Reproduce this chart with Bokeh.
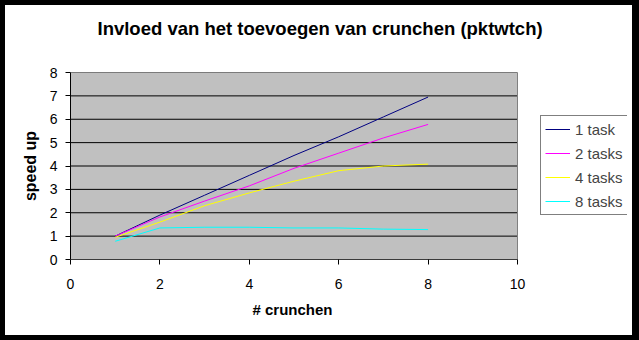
from bokeh.plotting import figure
from bokeh.models import Legend, LegendItem, FixedTicker, Range1d, Title
from bokeh.embed import file_html
from bokeh.resources import INLINE

crunchen = [1, 2, 3, 4, 5, 6, 7, 8]
task1 = [1.0, 1.9, 2.75, 3.6, 4.45, 5.25, 6.1, 6.95]
task2 = [1.0, 1.82, 2.5, 3.15, 3.9, 4.55, 5.2, 5.78]
task4 = [0.95, 1.6, 2.3, 2.85, 3.35, 3.8, 4.0, 4.08]
task8 = [0.78, 1.35, 1.38, 1.38, 1.35, 1.35, 1.30, 1.28]
series_names = ["1 task", "2 tasks", "4 tasks", "8 tasks"]
series_vals = [task1, task2, task4, task8]
colors = ["#000080", "#FF00FF", "#FFFF00", "#00FFFF"]
x_ticks = [0, 2, 4, 6, 8, 10]
y_ticks = [0, 1, 2, 3, 4, 5, 6, 7, 8]
title_text = "Invloed van het toevoegen van crunchen (pktwtch)"
x_label = "# crunchen"
y_label = "speed up"

FONT = "Liberation Sans"

# layout (pixels)
W, H = 639, 340
PLOT_PX = 447          # width of the grey plot area (0..10)
FRAME_PX = 557         # frame extends to the right to hold the legend
x_min, x_max = x_ticks[0], x_ticks[-1]
y_min, y_max = y_ticks[0], y_ticks[-1]
x_end = x_min + (x_max - x_min) * FRAME_PX / PLOT_PX

p = figure(width=W, height=H, output_backend="svg", toolbar_location=None,
           x_range=Range1d(x_min, x_end), y_range=Range1d(y_min, y_max),
           min_border_left=65, min_border_right=17, min_border_top=67, min_border_bottom=86,
           title=None)
p.styles = {"border-left": "5px solid black", "border-top": "5px solid black",
            "border-right": "7px solid black", "border-bottom": "5px solid black"}

# spacer nearest the frame, then the real title further out
spacer_top = Title(text=".", text_font_size="2px", text_color="white", standoff=19)
p.add_layout(spacer_top, "above")
main_title = Title(text=title_text, align="left", offset=27, vertical_align="top",
                   text_font=FONT, text_font_size="18.5px", text_font_style="bold",
                   text_color="black", standoff=20)
p.add_layout(main_title, "above")

p.background_fill_color = "white"
p.border_fill_color = "white"
p.outline_line_color = None

# grey plot area, gridlines and its top/right border
p.quad(left=x_min, right=x_max, bottom=y_min, top=y_max,
       fill_color="#C0C0C0", line_color=None)
p.segment(x0=[x_min] * len(y_ticks), x1=[x_max] * len(y_ticks), y0=y_ticks, y1=y_ticks,
          line_color="black", line_width=1)
p.line([x_min, x_max, x_max], [y_max, y_max, y_min], line_color="#808080", line_width=1)
p.segment(x0=[x_min], x1=[x_max], y0=[y_min], y1=[y_min], line_color="black", line_width=1)

for ax in (p.xaxis[0], p.yaxis[0]):
    ax.axis_line_color = "black"
    ax.major_tick_line_color = "black"
    ax.major_tick_out = 5
    ax.major_tick_in = 0
    ax.minor_tick_line_color = None
    ax.major_label_text_font = FONT
    ax.major_label_text_font_size = "14px"
    ax.major_label_text_color = "black"
    ax.axis_label_text_font = FONT
    ax.axis_label_text_font_size = "16px"
    ax.axis_label_text_font_style = "bold"
    ax.axis_label_text_color = "black"
p.xaxis.axis_line_color = None

p.xaxis.ticker = FixedTicker(ticks=x_ticks)
p.yaxis.ticker = FixedTicker(ticks=y_ticks)
p.yaxis.axis_label = y_label
p.xaxis.major_label_standoff = 14
p.yaxis.major_label_standoff = 8
p.yaxis.axis_label_standoff = 8

# x axis label, centred under the grey plot area (not the whole frame)
x_title = Title(text=x_label, align="left", offset=182, vertical_align="top",
                text_font=FONT, text_font_size="15px", text_font_style="bold",
                text_color="black", standoff=19)
p.add_layout(x_title, "below")

p.xgrid.grid_line_color = None
p.ygrid.grid_line_color = None

items = []
for name, vals, c in zip(series_names, series_vals, colors):
    r = p.line(crunchen, vals, line_color=c, line_width=1)
    items.append(LegendItem(label=name, renderers=[r]))

legend = Legend(items=items, location=(470, 44))
legend.border_line_color = "black"
legend.border_line_width = 1
legend.background_fill_color = "white"
legend.background_fill_alpha = 1
legend.label_text_font = FONT
legend.label_text_font_size = "15px"
legend.glyph_width = 25
legend.glyph_height = 18
legend.label_height = 18
legend.spacing = 6
legend.padding = 4
legend.margin = 0
legend.label_standoff = 5
p.add_layout(legend, "center")

open("out.html", "w").write(file_html(p, INLINE))
